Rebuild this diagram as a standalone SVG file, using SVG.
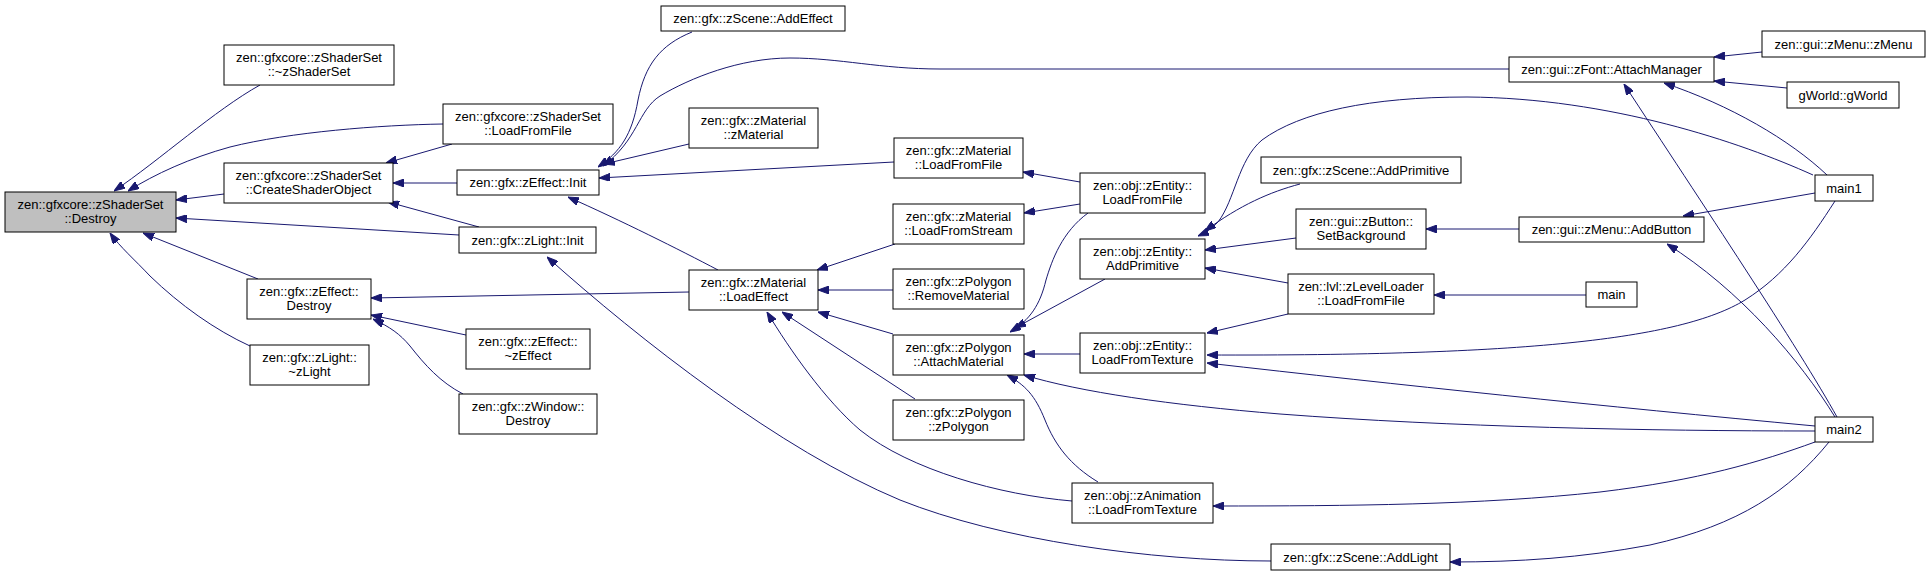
<svg xmlns="http://www.w3.org/2000/svg" width="1931" height="576" viewBox="0 0 1931 576">
<style>
.n rect{fill:#ffffff;stroke:#000000;stroke-width:1}
.root rect{fill:#bfbfbf}
.n text{font-family:"Liberation Sans",Arial,sans-serif;font-size:13px;fill:#000000;text-anchor:middle}
.e path{fill:none;stroke:#191970;stroke-width:1;marker-end:url(#ah)}
</style>
<defs>
<marker id="ah" viewBox="0 0 11 8" refX="11" refY="4" markerWidth="11" markerHeight="8" markerUnits="userSpaceOnUse" orient="auto">
<path d="M0,0 L11,4 L0,8 z" fill="#191970" stroke="#191970" stroke-width="1"/>
</marker>
</defs>
<rect width="1931" height="576" fill="#ffffff"/>
<g class="e" id="edges">
<path d="M260,85 C215,110 160,160 114,191"/>
<path d="M443,124 C380,125 290,132 230,147 C190,158 155,174 128,191"/>
<path d="M224,194 L176,200"/>
<path d="M459,235 L176,218"/>
<path d="M258,279 L143,233"/>
<path d="M250,346 C215,330 180,305 150,276 C135,260 120,247 110,233"/>
<path d="M452,144 L386,163"/>
<path d="M457,183 L393,183"/>
<path d="M479,227 L388,202"/>
<path d="M692,32 C660,45 645,65 638,100 C632,135 620,152 598,167"/>
<path d="M1509,69 L940,69 C880,69 840,58 790,58 C740,58 690,78 660,96 C638,110 638,140 603,166"/>
<path d="M689,144 L604,164"/>
<path d="M894,162 L599,178"/>
<path d="M718,270 C680,250 620,220 568,197"/>
<path d="M1271,561 C1150,561 1000,540 900,500 C780,450 640,340 547,257"/>
<path d="M689,292 L371,298"/>
<path d="M466,335 L371,315"/>
<path d="M463,394 C440,382 425,365 410,346 C400,334 390,327 373,319"/>
<path d="M895,244 L817,270"/>
<path d="M893,290 L818,290"/>
<path d="M893,334 L818,312"/>
<path d="M915,399 L782,312"/>
<path d="M1072,501 C1000,495 910,470 860,430 C825,400 790,350 767,312"/>
<path d="M1080,182 L1023,172"/>
<path d="M1080,204 L1024,213"/>
<path d="M1088,213 C1062,232 1052,260 1046,280 C1040,305 1030,320 1010,332"/>
<path d="M1105,279 L1015,328"/>
<path d="M1080,354 L1024,354"/>
<path d="M1098,482 C1070,465 1055,445 1045,420 C1035,395 1025,385 1007,375"/>
<path d="M1815,431 C1650,431 1450,427 1280,414 C1170,405 1080,392 1024,375"/>
<path d="M1288,314 L1207,333"/>
<path d="M1835,201 C1810,240 1785,275 1745,300 C1680,340 1520,356 1207,355"/>
<path d="M1815,426 C1600,406 1400,385 1207,363"/>
<path d="M1296,238 L1205,250"/>
<path d="M1288,283 L1205,268"/>
<path d="M1300,184 C1270,192 1240,205 1205,231"/>
<path d="M1813,175 C1740,142 1610,98 1467,97 C1370,97 1300,112 1262,140 C1238,160 1235,200 1218,222 C1210,230 1205,233 1198,236"/>
<path d="M1519,229 L1426,229"/>
<path d="M1586,295 L1434,295"/>
<path d="M1762,52 L1714,57"/>
<path d="M1787,88 L1714,81"/>
<path d="M1827,175 C1790,140 1730,105 1664,83"/>
<path d="M1837,417 C1800,350 1700,200 1624,84"/>
<path d="M1815,193 L1683,216"/>
<path d="M1835,417 C1800,360 1740,290 1667,244"/>
<path d="M1815,442 C1760,462 1700,480 1600,492 C1480,505 1350,506 1213,506"/>
<path d="M1829,442 C1790,490 1740,525 1650,545 C1580,558 1520,562 1450,562"/>
</g>
<g class="n root" id="n_destroy"><rect x="5" y="192" width="171" height="40"/><text x="90.5" y="208.5">zen::gfxcore::zShaderSet</text><text x="90.5" y="222.5">::Destroy</text></g>
<g class="n" id="n_dtor_shaderset"><rect x="224" y="45" width="170" height="40"/><text x="309" y="61.5">zen::gfxcore::zShaderSet</text><text x="309" y="75.5">::~zShaderSet</text></g>
<g class="n" id="n_ss_loadfromfile"><rect x="443" y="104" width="170" height="40"/><text x="528" y="120.5">zen::gfxcore::zShaderSet</text><text x="528" y="134.5">::LoadFromFile</text></g>
<g class="n" id="n_createshaderobject"><rect x="224" y="163" width="169" height="40"/><text x="308.5" y="179.5">zen::gfxcore::zShaderSet</text><text x="308.5" y="193.5">::CreateShaderObject</text></g>
<g class="n" id="n_effect_init"><rect x="457" y="170" width="142" height="25"/><text x="528" y="187">zen::gfx::zEffect::Init</text></g>
<g class="n" id="n_light_init"><rect x="459" y="227" width="137" height="26"/><text x="527.5" y="244.5">zen::gfx::zLight::Init</text></g>
<g class="n" id="n_effect_destroy"><rect x="247" y="279" width="124" height="40"/><text x="309" y="295.5">zen::gfx::zEffect::</text><text x="309" y="309.5">Destroy</text></g>
<g class="n" id="n_light_dtor"><rect x="250" y="345" width="119" height="40"/><text x="309.5" y="361.5">zen::gfx::zLight::</text><text x="309.5" y="375.5">~zLight</text></g>
<g class="n" id="n_effect_dtor"><rect x="466" y="329" width="124" height="40"/><text x="528" y="345.5">zen::gfx::zEffect::</text><text x="528" y="359.5">~zEffect</text></g>
<g class="n" id="n_window_destroy"><rect x="459" y="394" width="138" height="40"/><text x="528" y="410.5">zen::gfx::zWindow::</text><text x="528" y="424.5">Destroy</text></g>
<g class="n" id="n_scene_addeffect"><rect x="661" y="6" width="184" height="25"/><text x="753" y="23">zen::gfx::zScene::AddEffect</text></g>
<g class="n" id="n_material_ctor"><rect x="689" y="108" width="129" height="40"/><text x="753.5" y="124.5">zen::gfx::zMaterial</text><text x="753.5" y="138.5">::zMaterial</text></g>
<g class="n" id="n_material_loadfromfile"><rect x="894" y="138" width="129" height="40"/><text x="958.5" y="154.5">zen::gfx::zMaterial</text><text x="958.5" y="168.5">::LoadFromFile</text></g>
<g class="n" id="n_material_loadfromstream"><rect x="893" y="204" width="131" height="40"/><text x="958.5" y="220.5">zen::gfx::zMaterial</text><text x="958.5" y="234.5">::LoadFromStream</text></g>
<g class="n" id="n_material_loadeffect"><rect x="689" y="270" width="129" height="40"/><text x="753.5" y="286.5">zen::gfx::zMaterial</text><text x="753.5" y="300.5">::LoadEffect</text></g>
<g class="n" id="n_polygon_removematerial"><rect x="893" y="269" width="131" height="40"/><text x="958.5" y="285.5">zen::gfx::zPolygon</text><text x="958.5" y="299.5">::RemoveMaterial</text></g>
<g class="n" id="n_polygon_attachmaterial"><rect x="893" y="335" width="131" height="40"/><text x="958.5" y="351.5">zen::gfx::zPolygon</text><text x="958.5" y="365.5">::AttachMaterial</text></g>
<g class="n" id="n_polygon_ctor"><rect x="893" y="400" width="131" height="40"/><text x="958.5" y="416.5">zen::gfx::zPolygon</text><text x="958.5" y="430.5">::zPolygon</text></g>
<g class="n" id="n_entity_loadfromfile"><rect x="1080" y="173" width="125" height="40"/><text x="1142.5" y="189.5">zen::obj::zEntity::</text><text x="1142.5" y="203.5">LoadFromFile</text></g>
<g class="n" id="n_entity_addprimitive"><rect x="1080" y="239" width="125" height="40"/><text x="1142.5" y="255.5">zen::obj::zEntity::</text><text x="1142.5" y="269.5">AddPrimitive</text></g>
<g class="n" id="n_entity_loadfromtexture"><rect x="1080" y="333" width="125" height="40"/><text x="1142.5" y="349.5">zen::obj::zEntity::</text><text x="1142.5" y="363.5">LoadFromTexture</text></g>
<g class="n" id="n_animation_loadfromtexture"><rect x="1072" y="483" width="141" height="40"/><text x="1142.5" y="499.5">zen::obj::zAnimation</text><text x="1142.5" y="513.5">::LoadFromTexture</text></g>
<g class="n" id="n_scene_addlight"><rect x="1271" y="544" width="179" height="26"/><text x="1360.5" y="561.5">zen::gfx::zScene::AddLight</text></g>
<g class="n" id="n_scene_addprimitive"><rect x="1261" y="157" width="200" height="26"/><text x="1361" y="174.5">zen::gfx::zScene::AddPrimitive</text></g>
<g class="n" id="n_button_setbackground"><rect x="1296" y="209" width="130" height="40"/><text x="1361" y="225.5">zen::gui::zButton::</text><text x="1361" y="239.5">SetBackground</text></g>
<g class="n" id="n_levelloader_loadfromfile"><rect x="1288" y="274" width="146" height="40"/><text x="1361" y="290.5">zen::lvl::zLevelLoader</text><text x="1361" y="304.5">::LoadFromFile</text></g>
<g class="n" id="n_font_attachmanager"><rect x="1509" y="57" width="205" height="25"/><text x="1611.5" y="74">zen::gui::zFont::AttachManager</text></g>
<g class="n" id="n_menu_addbutton"><rect x="1519" y="217" width="185" height="25"/><text x="1611.5" y="234">zen::gui::zMenu::AddButton</text></g>
<g class="n" id="n_main"><rect x="1586" y="282" width="51" height="25"/><text x="1611.5" y="299">main</text></g>
<g class="n" id="n_menu_ctor"><rect x="1762" y="31" width="163" height="26"/><text x="1843.5" y="48.5">zen::gui::zMenu::zMenu</text></g>
<g class="n" id="n_gworld"><rect x="1787" y="82" width="112" height="26"/><text x="1843" y="99.5">gWorld::gWorld</text></g>
<g class="n" id="n_main1"><rect x="1815" y="175" width="58" height="26"/><text x="1844" y="192.5">main1</text></g>
<g class="n" id="n_main2"><rect x="1815" y="417" width="58" height="25"/><text x="1844" y="434">main2</text></g>
</svg>
